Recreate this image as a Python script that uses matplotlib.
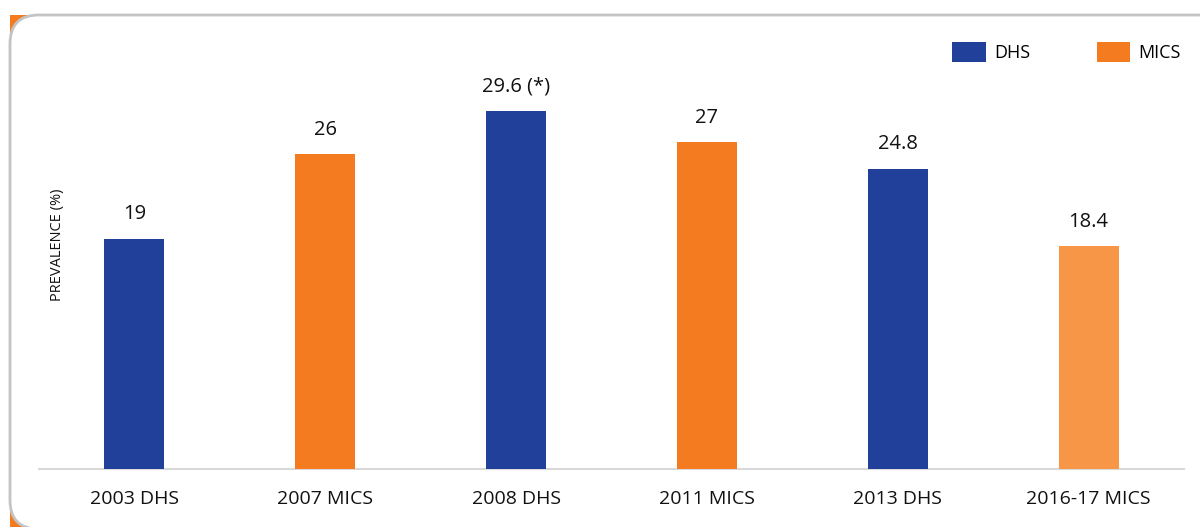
import matplotlib.pyplot as plt
from matplotlib.patches import FancyBboxPatch, Rectangle, Patch

plt.rcParams["font.family"] = ["Open Sans", "DejaVu Sans"]

categories = ["2003 DHS", "2007 MICS", "2008 DHS", "2011 MICS", "2013 DHS", "2016-17 MICS"]
values = [19, 26, 29.6, 27, 24.8, 18.4]
value_labels = ["19", "26", "29.6 (*)", "27", "24.8", "18.4"]
sources = ["DHS", "MICS", "DHS", "MICS", "DHS", "MICS"]

DHS_BLUE = "#21409A"
MICS_ORANGE = "#F47B20"
MICS_LIGHT = "#F79646"

W, H = 1200, 527
fig = plt.figure(figsize=(W / 100, H / 100), dpi=100)

# card background: orange corners peeking out behind a rounded white panel
for x0, y0 in [(10, H - 15 - 20), (10, 0)]:
    fig.patches.append(Rectangle((x0 / W, y0 / H), 20 / W, 20 / H,
                                 transform=fig.transFigure, facecolor=MICS_ORANGE,
                                 edgecolor="none", zorder=0))
card = FancyBboxPatch((10 / W, -2 / H), 1.2, (H - 15 + 2) / H,
                      boxstyle="round,pad=0,rounding_size=0.024",
                      mutation_aspect=W / H,
                      transform=fig.transFigure, facecolor="white",
                      edgecolor="#C4C4C4", linewidth=2, zorder=1)
fig.patches.append(card)

ax = fig.add_axes([39 / W, 58 / H, (1184 - 39) / W, (469 - 15) / H])
ax.set_facecolor("none")
ax.set_zorder(2)

colors = []
for i, s in enumerate(sources):
    if s == "DHS":
        colors.append(DHS_BLUE)
    elif i == len(sources) - 1:
        colors.append(MICS_LIGHT)
    else:
        colors.append(MICS_ORANGE)

x = range(len(categories))
bars = ax.bar(x, values, width=0.315, color=colors, zorder=3)

for rect, lbl in zip(bars, value_labels):
    ax.text(rect.get_x() + rect.get_width() / 2, rect.get_height() + 1.2, lbl,
            ha="center", va="bottom", fontsize=14.5, color="#111111")

ax.set_xlim(-0.5, len(categories) - 0.5)
ax.set_ylim(0, 37.5)
ax.set_xticks(list(x))
ax.set_xticklabels(categories, fontsize=14, color="#111111")
ax.tick_params(axis="x", length=0, pad=15)
ax.set_yticks([])
for side in ["top", "right", "left"]:
    ax.spines[side].set_visible(False)
ax.spines["bottom"].set_color("#D9D9D9")
ax.spines["bottom"].set_linewidth(1.5)

ax.set_ylabel("PREVALENCE (%)", fontsize=10.5, color="#111111")
ax.yaxis.set_label_coords(0.023, 0.495)

handles = [Patch(facecolor=DHS_BLUE, label="DHS"),
           Patch(facecolor=MICS_ORANGE, label="MICS")]
fig.legend(handles=handles, ncol=2, frameon=False, fontsize=13,
           loc="center left", bbox_to_anchor=(936 / W, 1 - 52 / H),
           handlelength=1.85, handleheight=1.3, handletextpad=0.45,
           columnspacing=3.7)

fig.savefig("out.png", dpi=100)
